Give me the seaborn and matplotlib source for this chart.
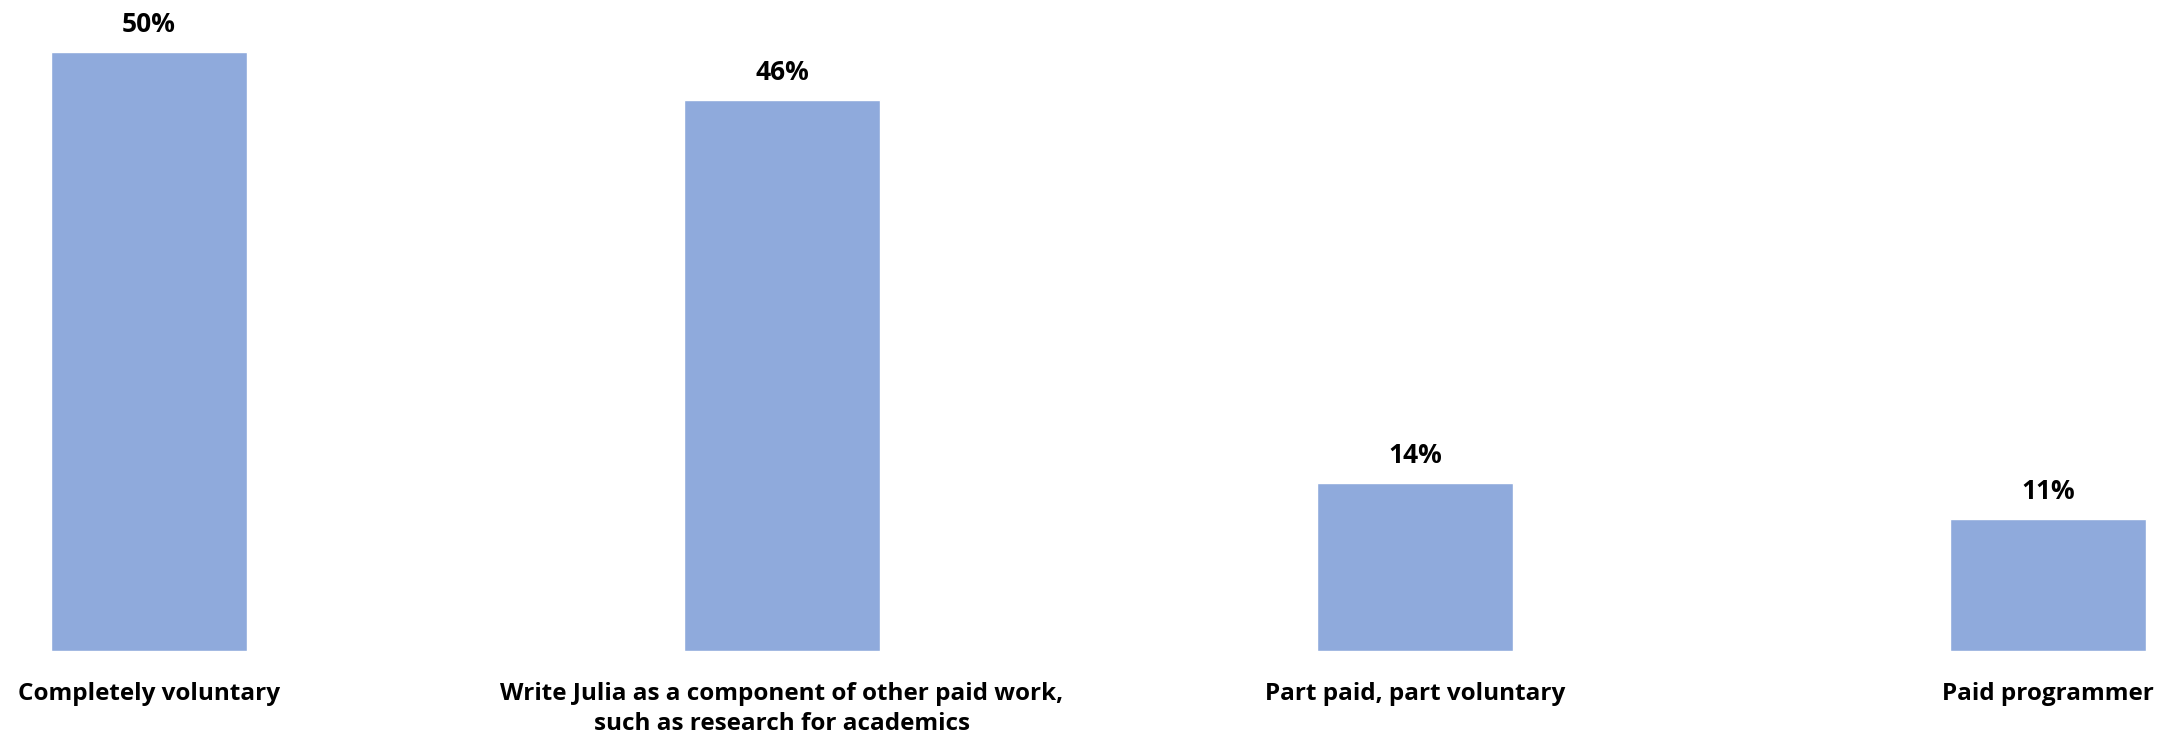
import matplotlib
matplotlib.use("Agg")
import matplotlib.pyplot as plt
import seaborn as sns
import pandas as pd

# survey answers
categories = [
    "Completely voluntary",
    "Write Julia as a component of other paid work,\nsuch as research for academics",
    "Part paid, part voluntary",
    "Paid programmer",
]
shares = [50, 46, 14, 11]
share_labels = ["50%", "46%", "14%", "11%"]

bar_color = "#8FAADC"

sns.set_theme(style="white")
plt.rcParams["font.family"] = ["Open Sans", "DejaVu Sans"]

df = pd.DataFrame({"category": categories, "share": shares})

fig = plt.figure(figsize=(21.78, 7.38), dpi=100)
ax = fig.add_axes([0, 87 / 738, 1, 651 / 738])

sns.barplot(data=df, x="category", y="share", color=bar_color,
            width=0.31, saturation=1, ax=ax)

# value labels above bars
for i, (v, lab) in enumerate(zip(shares, share_labels)):
    ax.annotate(lab, (i, v), xytext=(0, 14.4), textcoords="offset points",
                ha="center", va="baseline", fontsize=19, fontweight="bold",
                color="black")

ax.set_xlim(-0.235, 3.205)
ax.set_ylim(0, 54.3)
ax.set_xlabel("")
ax.set_ylabel("")
ax.set_yticks([])
ax.tick_params(axis="x", length=0, pad=22, labelsize=17.5)
for t in ax.get_xticklabels():
    t.set_fontweight("bold")
    t.set_linespacing(1.35)
    t.set_color("black")
sns.despine(ax=ax, left=True, bottom=True)

fig.savefig("out.png", dpi=100)
